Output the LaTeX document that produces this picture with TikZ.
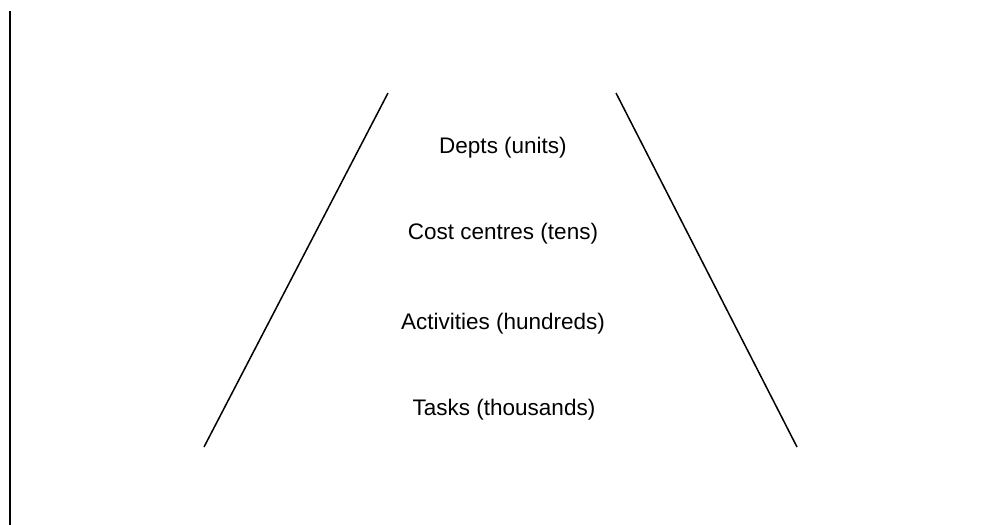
\documentclass[tikz,border=0pt]{standalone}
\usepackage{fontspec}
\setmainfont{Liberation Sans}
\begin{document}
\begin{tikzpicture}[x=1pt,y=-1pt,
  edge/.style={line width=1.5pt,black},
  lbl/.style={font=\fontsize{22.5}{27}\selectfont,anchor=center,inner sep=0pt}]
\useasboundingbox (0,0) rectangle (989,525);
\coordinate (vt) at (10,11);
\coordinate (vb) at (10,525);
\coordinate (lt) at (388,93);
\coordinate (lb) at (204,447);
\coordinate (rt) at (616,93);
\coordinate (rb) at (797,447);
\draw[line width=2pt] (vt) -- (vb);
\draw[edge] (lt) -- (lb);
\draw[edge] (rt) -- (rb);
\node[lbl] (d) at (503,148) {Depts (units)};
\node[lbl] (c) at (503,234) {Cost centres (tens)};
\node[lbl] (a) at (503,324) {Activities (hundreds)};
\node[lbl] (t) at (504,410) {Tasks (thousands)};
\end{tikzpicture}
\end{document}
